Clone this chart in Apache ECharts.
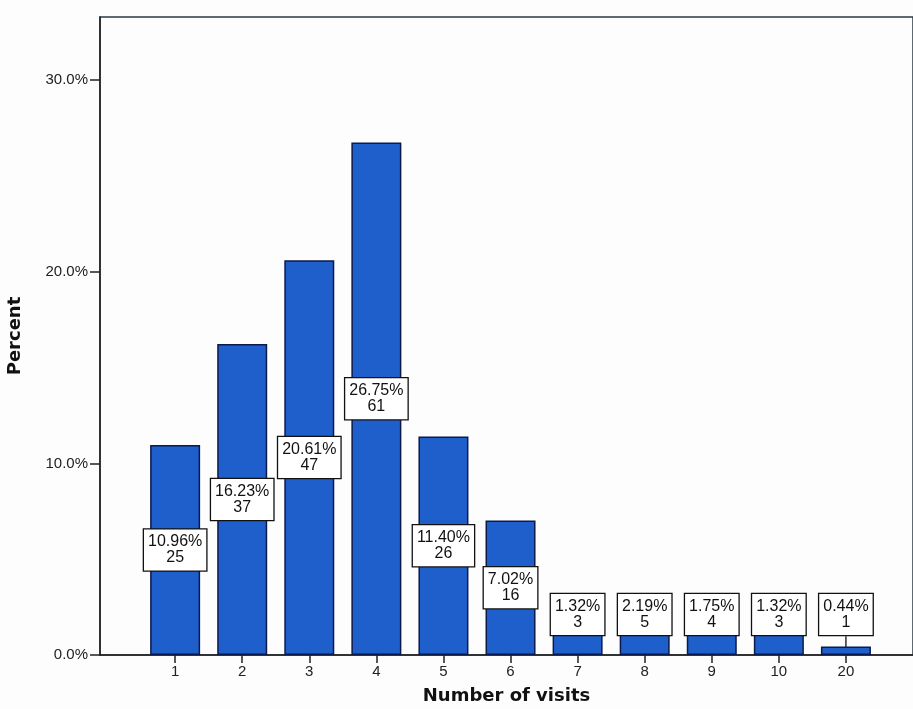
<!DOCTYPE html>
<html>
<head>
<meta charset="utf-8">
<script src="https://cdn.jsdelivr.net/npm/echarts@6/dist/echarts.min.js"></script>
<style>html,body{margin:0;padding:0;background:#fdfdfd;}#c{width:913px;height:709px;}</style>
</head>
<body>
<div id="c"></div>
<script>
const categories = ['1','2','3','4','5','6','7','8','9','10','20'];
const percents = [10.96, 16.23, 20.61, 26.75, 11.40, 7.02, 1.32, 2.19, 1.75, 1.32, 0.44];
const counts = [25, 37, 47, 61, 26, 16, 3, 5, 4, 3, 1];
const yTicks = [0, 10, 20, 30];

const font = '"Liberation Sans", Arial, sans-serif';
const positions = categories.map((c, i) => i + 1);

const data = categories.map((c, i) => {
  const small = percents[i] < 5;
  const tiny = percents[i] < 1;
  const item = {
    value: [positions[i], percents[i]],
    label: small ? { position: 'insideBottom', distance: tiny ? 8 : 20 } : { position: 'inside' }
  };
  if (tiny) item.labelLine = { show: true, lineStyle: { color: '#111', width: 1.3 } };
  return item;
});

const chart = echarts.init(document.getElementById('c'));
chart.setOption({
  backgroundColor: '#fdfdfd',
  animation: false,
  grid: { left: 100, right: 0, top: 17, bottom: 54, outerBoundsMode: 'none', containLabel: false, show: true, borderColor: '#2a3a44', borderWidth: 1.5, backgroundColor: 'transparent' },
  xAxis: {
    type: 'value',
    min: -0.12,
    max: 12,
    splitLine: { show: false },
    axisLine: { show: true, onZero: false, lineStyle: { color: '#222', width: 1.5 } },
    axisTick: { show: true, customValues: positions, length: 8, lineStyle: { color: '#222', width: 1.5 } },
    axisLabel: { customValues: positions, formatter: v => categories[Math.round(v) - 1] || '', color: '#222', fontSize: 15, fontFamily: font, margin: 9 },
    name: 'Number of visits',
    nameLocation: 'middle',
    nameGap: 32,
    nameTextStyle: { fontFamily: '"DejaVu Sans", sans-serif', fontWeight: 'bold', fontSize: 18, color: '#111' }
  },
  yAxis: {
    type: 'value',
    min: 0,
    max: 33.3,
    splitLine: { show: false },
    axisLine: { show: true, onZero: false, lineStyle: { color: '#222', width: 1.5 } },
    axisTick: { show: true, customValues: yTicks, length: 10, lineStyle: { color: '#222', width: 1.5 } },
    axisLabel: { customValues: yTicks, formatter: v => v.toFixed(1) + '%', color: '#222', fontSize: 15, fontFamily: font, margin: 12 },
    name: 'Percent',
    nameLocation: 'middle',
    nameGap: 76,
    nameTextStyle: { fontFamily: '"DejaVu Sans", sans-serif', fontWeight: 'bold', fontSize: 18, color: '#111' }
  },
  series: [{
    type: 'bar',
    data: data,
    barWidth: 50,
    itemStyle: { color: '#1f5fcb', borderColor: '#0c1a4a', borderWidth: 1.5 },
    labelLine: { show: false, lineStyle: { color: '#111', width: 1.3 } },
    labelLayout: p => (percents[p.dataIndex] < 1 ? { dy: -12 } : {}),
    label: {
      show: true,
      formatter: p => percents[p.dataIndex].toFixed(2) + '%\n' + counts[p.dataIndex],
      backgroundColor: '#ffffff',
      borderColor: '#111',
      borderWidth: 1.3,
      padding: [5, 4, 4, 4],
      color: '#111',
      fontSize: 16,
      lineHeight: 16,
      fontFamily: font,
      align: 'center'
    }
  }]
});
</script>
</body>
</html>
